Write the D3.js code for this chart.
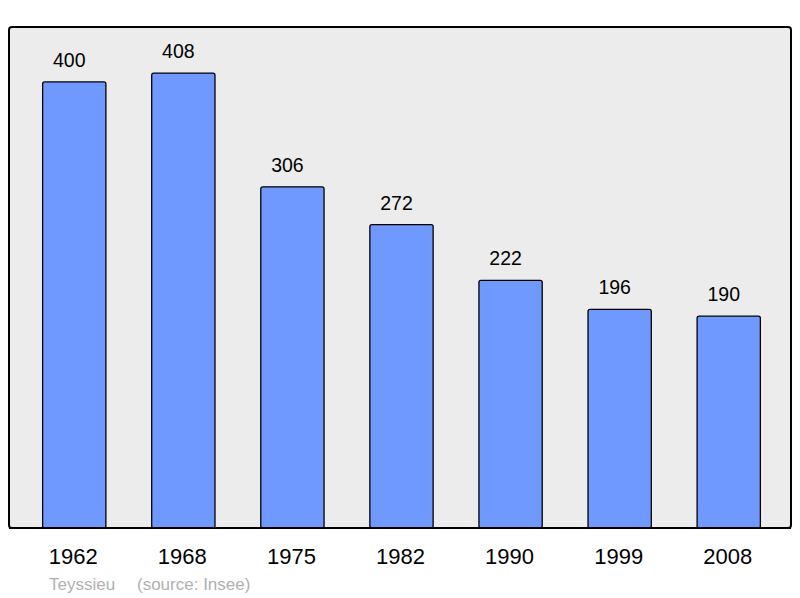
<!DOCTYPE html>
<html>
<head>
<meta charset="utf-8">
<script src="https://d3js.org/d3.v7.min.js"></script>
<style>
  body { margin: 0; background: #fff; }
  text { font-family: "Liberation Sans", Arial, sans-serif; }
</style>
</head>
<body>
<script>
var years = ["1962", "1968", "1975", "1982", "1990", "1999", "2008"];
var population = [400, 408, 306, 272, 222, 196, 190];
var footerName = "Teyssieu";
var footerSource = "(source: Insee)";

var width = 800, height = 598;
var panel = {left: 9, top: 27, right: 791, bottom: 528};

var svg = d3.select("body").append("svg")
    .attr("width", width)
    .attr("height", height);

// background panel
svg.append("rect")
    .attr("x", panel.left)
    .attr("y", panel.top)
    .attr("width", panel.right - panel.left)
    .attr("height", panel.bottom - panel.top)
    .attr("rx", 3)
    .attr("fill", "#ececec")
    .attr("stroke", "#000")
    .attr("stroke-width", 2);

var x = d3.scaleBand()
    .domain(years)
    .range([11, 792])
    .paddingInner(0.42)
    .paddingOuter(0.29);

var y = d3.scaleLinear()
    .domain([0, 449.3])
    .range([panel.bottom, panel.top]);

var bars = svg.append("g").selectAll("g")
    .data(years)
    .enter().append("g");

bars.append("rect")
    .attr("x", function(d) { return x(d); })
    .attr("y", function(d, i) { return y(population[i]); })
    .attr("width", x.bandwidth())
    .attr("height", function(d, i) { return y(0) - y(population[i]); })
    .attr("rx", 2)
    .attr("fill", "#7099ff")
    .attr("stroke", "#000")
    .attr("stroke-width", 1.3);

// value labels sit a little left of the bar centre, as in the original
bars.append("text")
    .attr("x", function(d) { return x(d) + x.bandwidth() / 2 - 5; })
    .attr("y", function(d, i) { return y(population[i]) - 15; })
    .attr("text-anchor", "middle")
    .attr("font-size", 19.5)
    .attr("fill", "#000")
    .text(function(d, i) { return population[i]; });

// redraw bottom border over the bars
svg.append("line")
    .attr("x1", panel.left).attr("x2", panel.right)
    .attr("y1", panel.bottom).attr("y2", panel.bottom)
    .attr("stroke", "#000").attr("stroke-width", 2);

// year labels
svg.append("g").selectAll("text")
    .data(years)
    .enter().append("text")
    .attr("x", function(d) { return x(d) + x.bandwidth() / 2 - 1; })
    .attr("y", 564)
    .attr("text-anchor", "middle")
    .attr("font-size", 22)
    .attr("fill", "#000")
    .text(function(d) { return d; });

svg.append("text")
    .attr("x", 49)
    .attr("y", 590)
    .attr("font-size", 17)
    .attr("fill", "#b0b0b0")
    .text(footerName);

svg.append("text")
    .attr("x", 137)
    .attr("y", 590)
    .attr("font-size", 17)
    .attr("fill", "#b0b0b0")
    .text(footerSource);
</script>
</body>
</html>
